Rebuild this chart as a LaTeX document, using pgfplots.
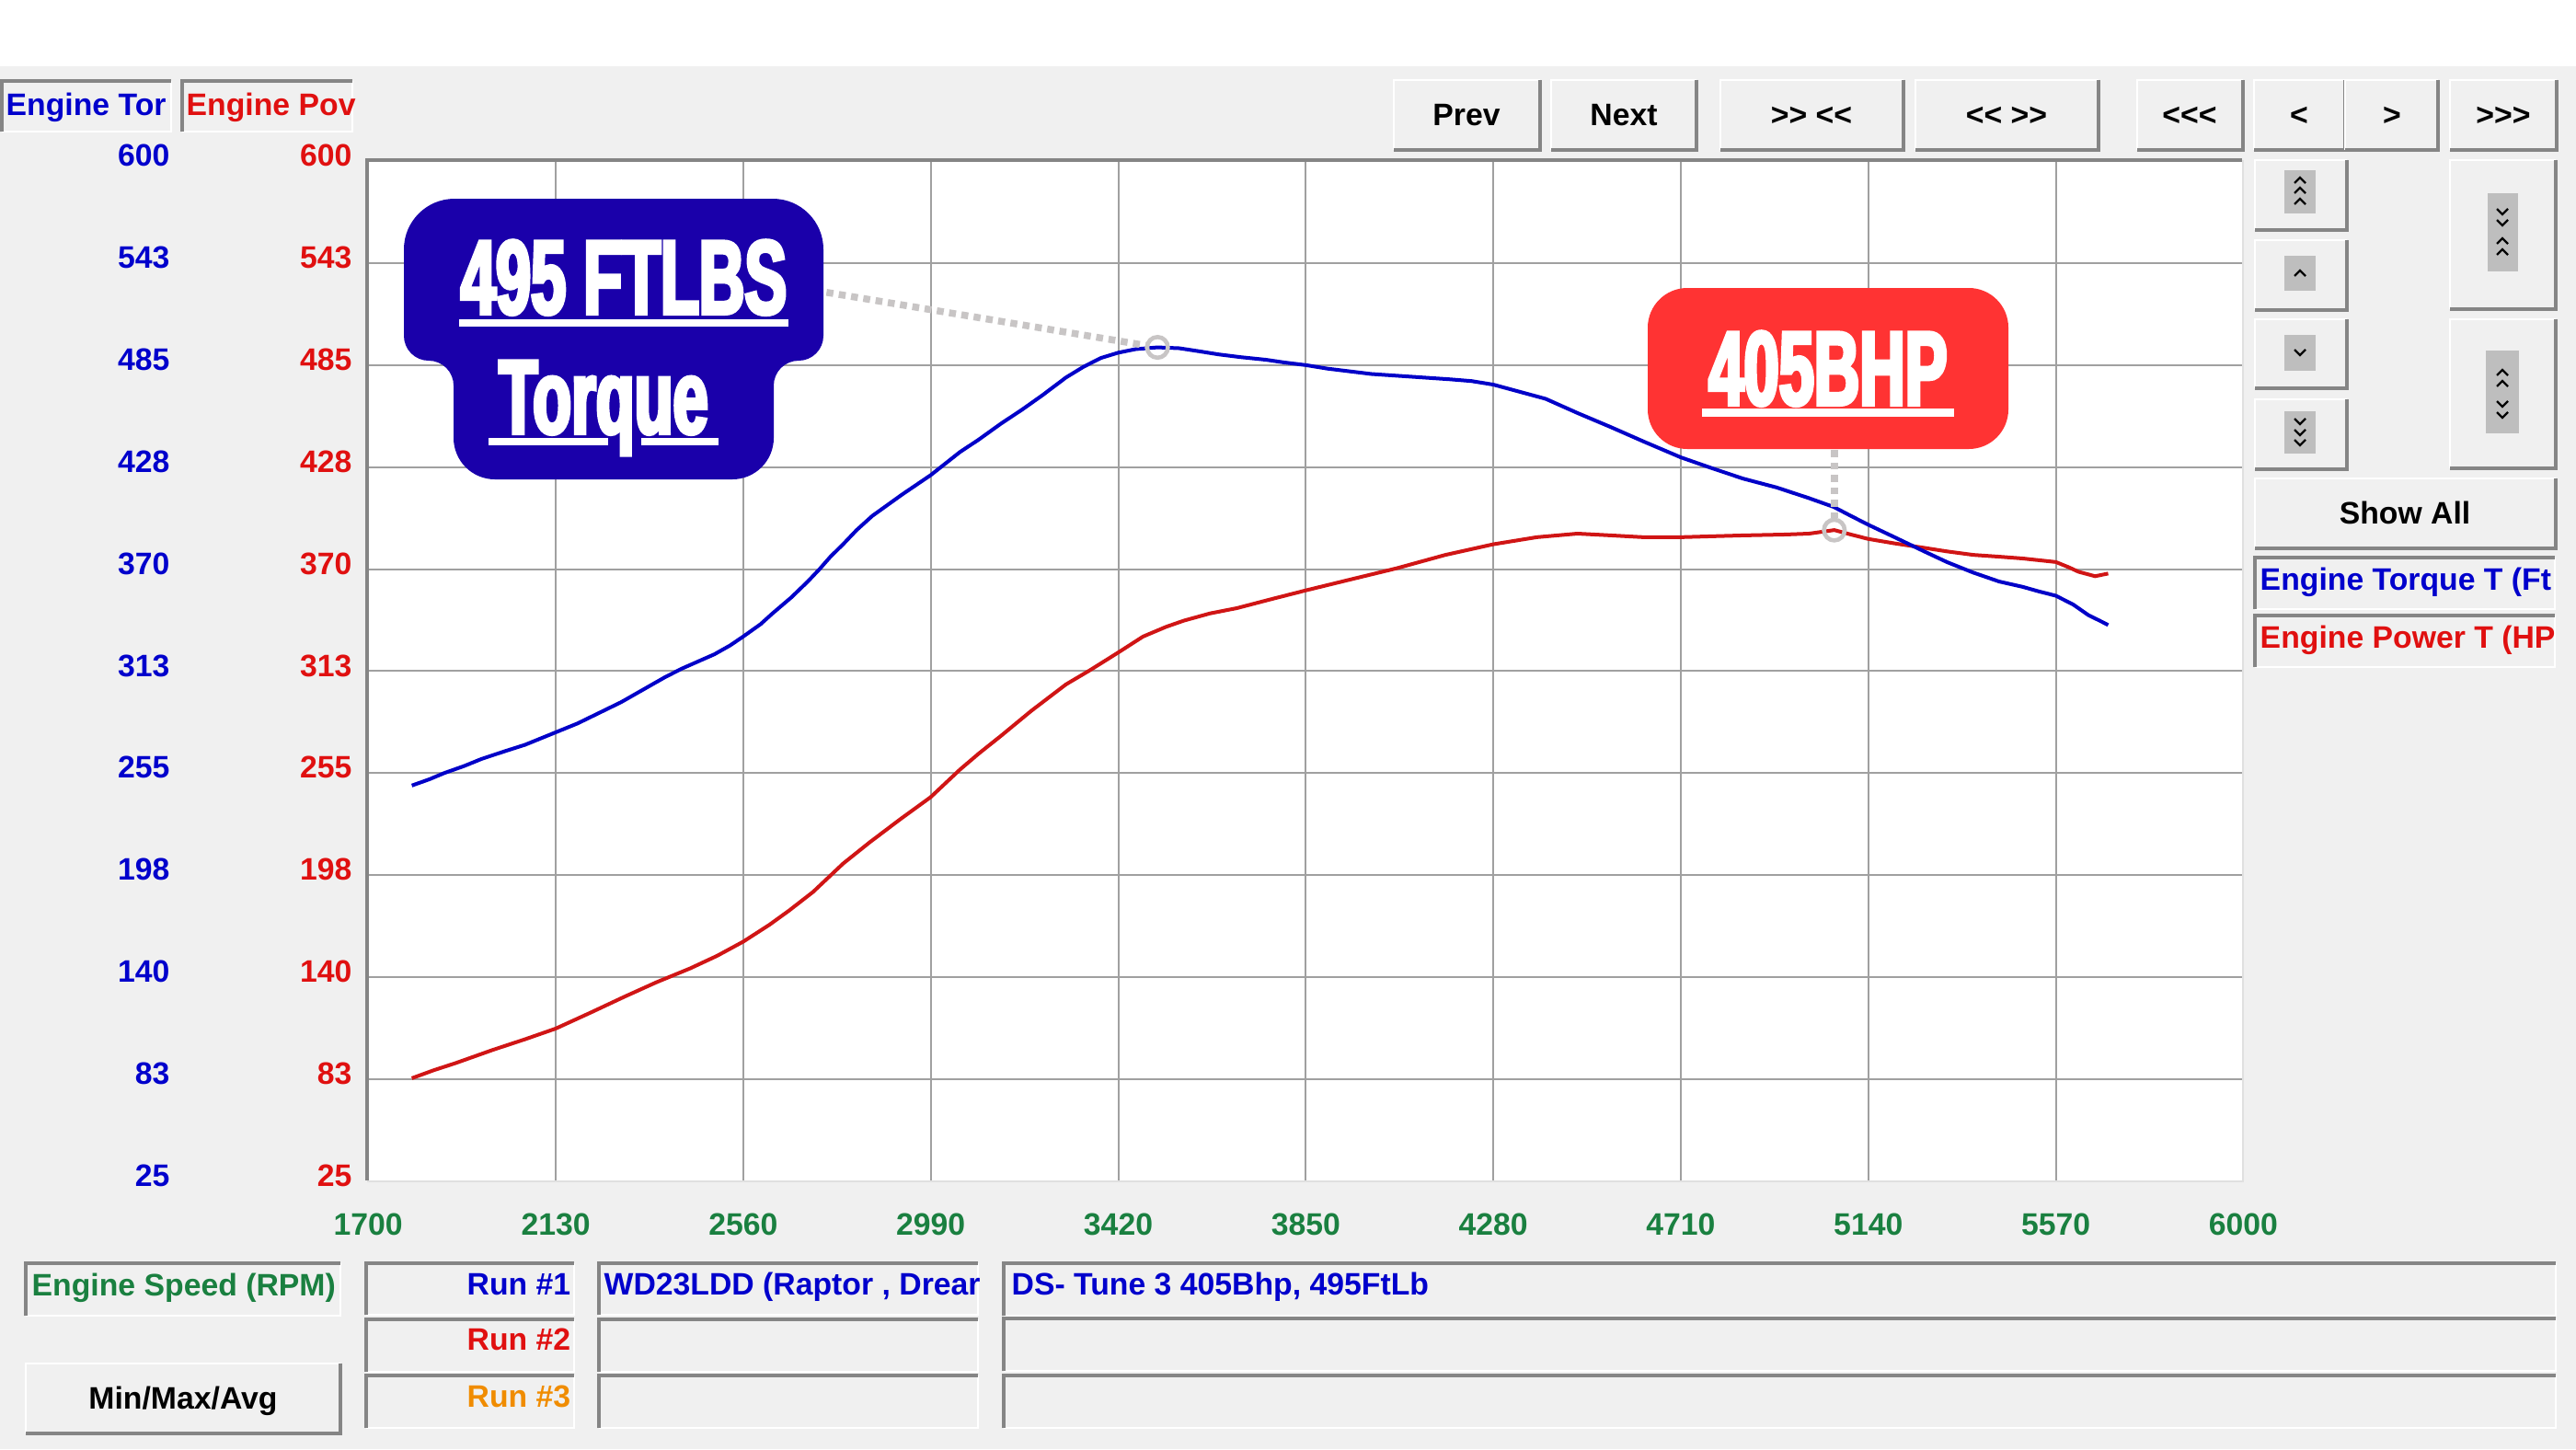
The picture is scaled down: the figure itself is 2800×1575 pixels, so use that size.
\documentclass[border=0pt]{standalone}
\usepackage{fontspec}
\setmainfont{Liberation Sans}
\newfontfamily\calloutfont{Liberation Sans}[FakeStretch=0.6,FakeBold=3.5]
\usepackage{pgfplots}
\pgfplotsset{compat=1.18}
\usepackage{pgfplotstable}

\definecolor{uibg}{HTML}{F0F0F0}
\definecolor{shadow}{HTML}{858585}
\definecolor{gridgray}{HTML}{A0A0A0}
\definecolor{chevbg}{HTML}{BEBEBE}
\definecolor{tblue}{HTML}{0000CC}
\definecolor{tred}{HTML}{E01010}
\definecolor{tgreen}{HTML}{1A8040}
\definecolor{torange}{HTML}{F08C00}
\definecolor{lblue}{HTML}{0000C8}
\definecolor{lred}{HTML}{D01515}
\definecolor{calblue}{HTML}{1A00AA}
\definecolor{calred}{HTML}{FF3333}
\definecolor{leadergray}{HTML}{C8C5C5}

\newcommand\ui{\fontsize{9.6}{11.5}\selectfont\bfseries}
% keep repeated angle brackets from turning into guillemets
\newcommand\gt{>\kern0pt}
\newcommand\lt{<\kern0pt}

% raised push button: light top/left edge, dark bottom/right edge
\newcommand\raised[4]{%
  \fill[uibg] (#1,#2) rectangle (#3,#4);
  \draw[white, line width=0.025cm] (#1,#4) -- (#1,#2) -- (#3,#2);
  \draw[shadow, line width=0.04cm] (#1,#4) -- (#3,#4) -- (#3,#2);}
% sunken field: dark top/left edge, light bottom/right edge
\newcommand\sunken[4]{%
  \fill[uibg] (#1,#2) rectangle (#3,#4);
  \draw[white, line width=0.025cm] (#1,#4) -- (#3,#4) -- (#3,#2);
  \draw[shadow, line width=0.04cm] (#1,#4) -- (#1,#2) -- (#3,#2);}
\newcommand\chevup[2]{\draw[black, line width=0.022cm] (#1-6,#2+3) -- (#1,#2-3) -- (#1+6,#2+3);}
\newcommand\chevdn[2]{\draw[black, line width=0.022cm] (#1-6,#2-3) -- (#1,#2+3) -- (#1+6,#2-3);}

\tikzset{leader/.style={draw=leadergray, line width=0.075cm, dash pattern=on 0.075cm off 0.06cm}}

% Run #1 dyno trace: engine speed (rpm) against torque (ft-lb)
\pgfplotstableread{
rpm tq
1800 248
1840 251.5
1874 255
1920 259
1960 263
2009 267
2060 271
2100 275
2130 278
2180 283
2230 289
2280 295
2330 302
2380 309
2420 314
2494 322
2530 327
2560 332
2600 339
2627 345
2670 354
2708 363
2735 370
2760 377
2789 384
2820 392
2856 400
2890 406
2924 412
2960 418
2990 423
3057 436
3100 443
3151 452
3200 460
3246 468
3300 478
3340 484
3380 489
3420 492
3460 494
3510 495
3560 494.5
3600 493
3651 491
3700 489.5
3759 488
3800 486.5
3850 485
3900 483
3950 481.5
4000 480
4060 479
4120 478
4180 477
4230 476
4280 474
4340 470
4400 466
4473 458
4550 450
4624 442
4710 433
4780 427
4853 421
4930 416
5004 410
5061 405
5100 400
5140 395
5200 388
5268 380
5320 374
5381 368
5440 363
5494 360
5530 357.5
5570 355
5610 350
5645 344
5670 341
5690 338.5
}\torquedata

% Run #1 dyno trace: engine speed (rpm) against power (hp)
\pgfplotstableread{
rpm pw
1800 83
1850 87.5
1900 91.5
1986 99
2060 105
2130 111
2210 120
2288 129
2360 137
2439 145
2500 152
2560 160
2620 169.5
2665 177.5
2720 188
2789 204
2850 216
2920 229
2990 241.5
3057 257
3100 266
3151 276
3220 290
3300 305
3355 313
3420 323
3477 332
3530 337.5
3571 341
3630 345
3692 348
3770 353
3850 358
3950 364
4059 370.5
4170 378
4280 384
4380 388
4473 390
4550 389
4624 388
4710 388
4780 388.5
4853 389
4950 389.5
5004 390
5062 392
5100 389.5
5140 387
5200 384.5
5268 382
5320 380
5381 378
5440 377
5494 376
5570 374
5600 371
5622 368.5
5660 366
5690 367.5
}\powerdata

\pgfplotsset{
  dyno/.style={
    at={(4cm,-12.83cm)}, anchor=south west,
    scale only axis, width=20.37cm, height=11.08cm,
    xmin=1700, xmax=6000, ymin=25, ymax=600,
    ytick={25,82.5,140,197.5,255,312.5,370,427.5,485,542.5,600},
    yticklabels={25,83,140,198,255,313,370,428,485,543,600},
    major tick length=0pt,
    axis line style={draw=none},
  },
}

\begin{document}
\begin{tikzpicture}
\begin{scope}[x=0.01cm,y=-0.01cm]
  \useasboundingbox (0,0) rectangle (2800,1575);
  \fill[white] (0,0) rectangle (2800,72);
  \fill[uibg] (0,72) rectangle (2800,1575);

  % channel tabs
  \sunken{2}{88}{186}{143}
  \sunken{198}{88}{383}{143}
  \node[anchor=base west, inner sep=0, font=\ui, text=tblue] at (6,125) {Engine Tor};
  \node[anchor=base west, inner sep=0, font=\ui, text=tred] at (202,125) {Engine Pov};

  % navigation buttons
  \raised{1515}{87}{1674}{163}
  \raised{1686}{87}{1844}{163}
  \raised{1870}{87}{2069}{163}
  \raised{2082}{87}{2281}{163}
  \raised{2323}{87}{2438}{163}
  \raised{2450}{87}{2549}{163}
  \raised{2549}{87}{2650}{163}
  \raised{2663}{87}{2779}{163}
  \node[anchor=base, inner sep=0, font=\ui] at (1594,136) {Prev};
  \node[anchor=base, inner sep=0, font=\ui] at (1765,136) {Next};
  \node[anchor=base, inner sep=0, font=\ui] at (1969,136) {\gt\gt{} \lt\lt};
  \node[anchor=base, inner sep=0, font=\ui] at (2181,136) {\lt\lt{} \gt\gt};
  \node[anchor=base, inner sep=0, font=\ui] at (2380,136) {\lt\lt\lt};
  \node[anchor=base, inner sep=0, font=\ui] at (2499,136) {\lt};
  \node[anchor=base, inner sep=0, font=\ui] at (2600,136) {\gt};
  \node[anchor=base, inner sep=0, font=\ui] at (2721,136) {\gt\gt\gt};

  % zoom buttons on the right
  \raised{2451}{174}{2551}{250}
  \raised{2451}{261}{2551}{337}
  \raised{2451}{347}{2551}{422}
  \raised{2451}{434}{2551}{510}
  \raised{2663}{174}{2778}{336}
  \raised{2663}{347}{2778}{509}
  \fill[chevbg] (2483,185) rectangle (2517,232);
  \chevup{2500}{196}\chevup{2500}{207}\chevup{2500}{219}
  \fill[chevbg] (2483,278) rectangle (2517,316);
  \chevup{2500}{297}
  \fill[chevbg] (2483,364) rectangle (2517,403);
  \chevdn{2500}{383}
  \fill[chevbg] (2483,447) rectangle (2517,493);
  \chevdn{2500}{458}\chevdn{2500}{470}\chevdn{2500}{481}
  \fill[chevbg] (2704,210) rectangle (2737,295);
  \chevdn{2720}{230}\chevdn{2720}{242}\chevup{2720}{262}\chevup{2720}{274}
  \fill[chevbg] (2702,381) rectangle (2738,471);
  \chevup{2720}{405}\chevup{2720}{417}\chevdn{2720}{439}\chevdn{2720}{451}

  \raised{2451}{520}{2778}{596}
  \node[anchor=base, inner sep=0, font=\ui] at (2614,569) {Show All};
  \sunken{2451}{606}{2777}{662}
  \sunken{2451}{669}{2777}{725}
  \node[anchor=base west, inner sep=0, font=\ui, text=tblue] at (2456,641) {Engine Torque T (Ft};
  \node[anchor=base west, inner sep=0, font=\ui, text=tred] at (2456,704) {Engine Power T (HP};

  % run information fields
  \sunken{28}{1373}{370}{1430}
  \node[anchor=base west, inner sep=0, font=\ui, text=tgreen] at (34,1408) {Engine Speed (RPM)};
  \raised{28}{1482}{370}{1558}
  \node[anchor=base, inner sep=0, font=\ui] at (199,1531) {Min/Max/Avg};
  \sunken{398}{1373}{624}{1429}
  \sunken{398}{1434}{624}{1491}
  \sunken{398}{1495}{624}{1552}
  \node[anchor=base east, inner sep=0, font=\ui, text=tblue] at (621,1407) {Run \#1};
  \node[anchor=base east, inner sep=0, font=\ui, text=tred] at (621,1467) {Run \#2};
  \node[anchor=base east, inner sep=0, font=\ui, text=torange] at (621,1529) {Run \#3};
  \sunken{651}{1373}{1063}{1429}
  \sunken{651}{1434}{1063}{1491}
  \sunken{651}{1495}{1063}{1552}
  \node[anchor=base west, inner sep=0, font=\ui, text=tblue] at (656,1407) {WD23LDD (Raptor , Drear};
  \sunken{1091}{1373}{2778}{1430}
  \sunken{1091}{1433}{2778}{1490}
  \sunken{1091}{1495}{2778}{1552}
  \node[anchor=base west, inner sep=0, font=\ui, text=tblue] at (1099,1407) {DS- Tune 3 405Bhp, 495FtLb};
\end{scope}

% power axis: grid, rpm labels, red scale and power curve
\begin{axis}[dyno,
    axis background/.style={fill=white},
    xtick={1700,2130,2560,2990,3420,3850,4280,4710,5140,5570,6000},
    xticklabels={1700,2130,2560,2990,3420,3850,4280,4710,5140,5570,6000},
    grid=major, grid style={color=gridgray, line width=0.02cm},
    xticklabel style={font=\ui, text=tgreen, anchor=north, inner sep=0pt, yshift=-0.34cm},
    yticklabel style={font=\ui, text=tred, anchor=east, inner sep=0pt, xshift=-0.17cm, yshift=0.06cm},
  ]
  \addplot[lred, line width=0.04cm] table[x=rpm, y=pw] {\powerdata};
\end{axis}

% torque axis: blue scale, torque curve and peak markers
\begin{axis}[dyno,
    xtick=\empty,
    yticklabel style={font=\ui, text=tblue, anchor=east, inner sep=0pt, xshift=-2.15cm, yshift=0.06cm},
  ]
  \addplot[lblue, line width=0.04cm] table[x=rpm, y=tq] {\torquedata};
  \draw[leader, shorten >=0.13cm] (axis cs:2751,526) -- (axis cs:3510,495);
  \draw[leader, shorten >=0.13cm] (axis cs:5062,437) -- (axis cs:5062,392);
  \addplot[only marks, mark=o, mark size=3.2pt, draw=leadergray, line width=1.3pt] coordinates {(3510,495) (5062,392)};
\end{axis}

\begin{scope}[x=0.01cm,y=-0.01cm]
  % plot frame
  \draw[shadow, line width=0.035cm] (399,1283) -- (399,174) -- (2437,174);
  \draw[white!88!black, line width=0.02cm] (399,1284) -- (2438,1284) -- (2438,174);

  % torque callout
  \fill[calblue] (494,216) -- (840,216) arc[start angle=270, end angle=360, radius=55]
    -- (895,365) arc[start angle=0, end angle=90, radius=27]
    -- (868,392) arc[start angle=270, end angle=180, radius=27]
    -- (841,476) arc[start angle=0, end angle=90, radius=45]
    -- (538,521) arc[start angle=90, end angle=180, radius=45]
    -- (493,419) arc[start angle=0, end angle=-90, radius=27]
    -- (466,392) arc[start angle=90, end angle=180, radius=27]
    -- (439,271) arc[start angle=180, end angle=270, radius=55] -- cycle;
  \node[anchor=base, inner sep=0, text=white, font={\fontsize{32.5}{34}\calloutfont\bfseries}] at (678,341) {495 FTLBS};
  \fill[white] (499,347) rectangle (857,355);
  \node[anchor=base, inner sep=0, text=white, font={\fontsize{32.5}{34}\calloutfont\bfseries}] at (656,471) {Torque};
  \fill[white] (531,476) rectangle (661,484);
  \fill[white] (697,476) rectangle (781,484);

  % power callout
  \fill[calred, rounded corners=0.43cm] (1791,313) rectangle (2183,488);
  \node[anchor=base, inner sep=0, text=white, font={\fontsize{32.5}{34}\calloutfont\bfseries}] at (1987,440) {405BHP};
  \fill[white] (1850,444) rectangle (2124,453);
\end{scope}
\end{tikzpicture}
\end{document}
